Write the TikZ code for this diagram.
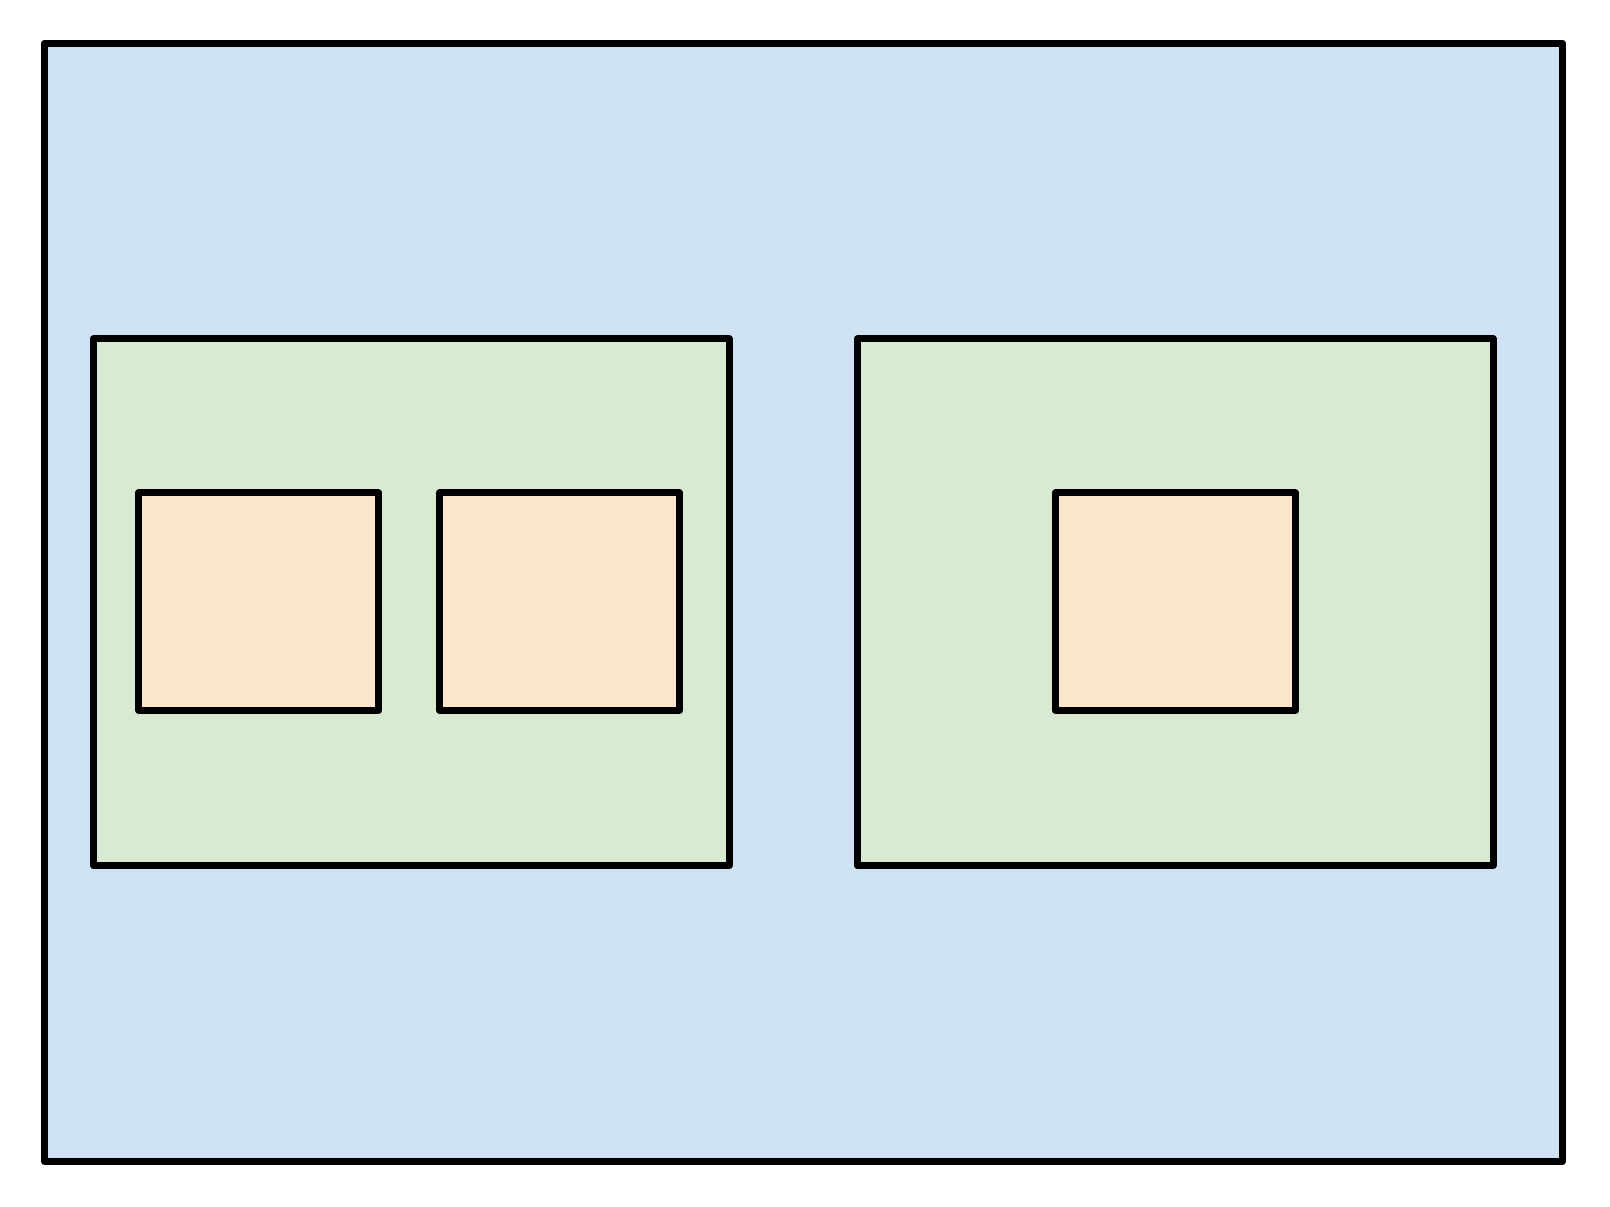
\documentclass[tikz,border=0pt]{standalone}
\usepackage{xcolor}
\usepackage{tikz}
\usetikzlibrary{positioning}

\definecolor{outerblue}{HTML}{CFE2F3}
\definecolor{groupgreen}{HTML}{D9EAD3}
\definecolor{itemorange}{HTML}{FCE5CD}

\begin{document}
\begin{tikzpicture}[
  x=1pt, y=1pt,
  box/.style={rectangle, draw=black, line width=3.5pt, line join=round, inner sep=0pt, outer sep=0pt},
  outerbox/.style={box, fill=outerblue, minimum width=759.3pt, minimum height=559.1pt},
  groupbox/.style={box, fill=groupgreen, minimum width=317.8pt, minimum height=263.4pt},
  itembox/.style={box, fill=itemorange, minimum width=120pt, minimum height=108.8pt}
]
\useasboundingbox (0,0) rectangle (805,-603);

% Outer container
\node[outerbox] (outer) at (401.75,-301.1) {};

% Two groups
\node[groupbox] (groupL) at (205.6,-301.1) {};
\node[groupbox] (groupR) at (587.6,-301.1) {};

% Items inside groups
\node[itembox] (itemA) at (129.4,-300.85) {};
\node[itembox, right=30.3pt of itemA] (itemB) {};
\node[itembox] (itemC) at (587.6,-300.85) {};
\end{tikzpicture}
\end{document}
